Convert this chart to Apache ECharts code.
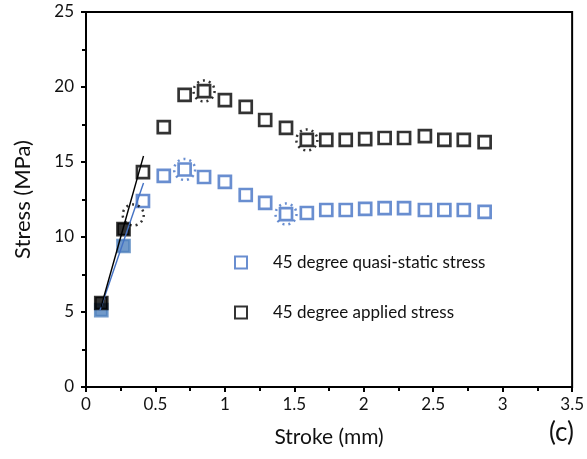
<!DOCTYPE html>
<html>
<head>
<meta charset="utf-8">
<script src="https://cdn.jsdelivr.net/npm/echarts@6/dist/echarts.min.js"></script>
<style>
  html, body { margin: 0; padding: 0; background: #fff; }
  #chart { width: 587px; height: 459px; }
</style>
</head>
<body>
<div id="chart"></div>
<script>
// Stroke positions (mm) shared by both stress series
const stroke = [0.11, 0.27, 0.41, 0.56, 0.71, 0.85, 1.0, 1.15, 1.29, 1.44,
                1.59, 1.73, 1.87, 2.01, 2.15, 2.29, 2.44, 2.58, 2.72, 2.87];

// 45 degree quasi-static stress (MPa)
const quasiStatic = [5.13, 9.4, 12.4, 14.07, 14.5, 14.0, 13.67, 12.8, 12.27, 11.53,
                     11.6, 11.8, 11.8, 11.87, 11.93, 11.93, 11.8, 11.8, 11.8, 11.67];

// 45 degree applied stress (MPa)
const applied = [5.6, 10.53, 14.33, 17.33, 19.47, 19.73, 19.13, 18.67, 17.8, 17.27,
                 16.47, 16.47, 16.47, 16.53, 16.6, 16.6, 16.73, 16.47, 16.47, 16.33];

// Number of leading points drawn as solid squares (elastic region)
const solidCount = 2;

// Indices of points highlighted with a dotted circle
const quasiCircled = [4, 9];
const appliedCircled = [5, 10];

// Linear fits through the elastic region [stroke, stress]
const quasiFit = [[0.10, 5.1], [0.414, 13.6]];
const appliedFit = [[0.107, 5.3], [0.414, 15.4]];

// Yield point marked on the elastic fit
const yieldPoint = [[0.34, 11.47]];

// Axis ranges and tick spacing
const xRange = [0, 3.5], xStep = 0.5;
const yRange = [0, 25], yStep = 5;

const BLUE = '#4472c4';
const BLUE_SOLID = '#4f81bd';
const BLACK = '#000000';
const TEXT = '#111111';
const FONT = 'Lato';

function markerData(xs, ys, solidColor) {
  return xs.map((x, i) => {
    const item = { value: [x, ys[i]] };
    if (i < solidCount) {
      item.itemStyle = { color: solidColor, borderColor: solidColor };
    }
    return item;
  });
}

function circledData(xs, ys, idx) {
  return idx.map(i => [xs[i], ys[i]]);
}

function circleSeries(data, color) {
  return {
    type: 'scatter',
    data: data,
    symbol: 'circle',
    symbolSize: 21,
    silent: true,
    z: 4,
    itemStyle: {
      color: 'transparent',
      borderColor: color,
      borderWidth: 2.5,
      borderType: [2, 4]
    }
  };
}

const chart = echarts.init(document.getElementById('chart'), null, { renderer: 'canvas' });

chart.setOption({
  animation: false,
  backgroundColor: '#ffffff',
  textStyle: { fontFamily: FONT },
  grid: {
    left: 86, right: 11, top: 12, bottom: 72,
    show: true,
    borderColor: BLACK,
    borderWidth: 2,
    backgroundColor: 'transparent'
  },
  legend: {
    orient: 'vertical',
    left: 229,
    top: 249,
    itemGap: 33,
    itemWidth: 12,
    itemHeight: 12,
    selectedMode: false,
    data: ['45 degree quasi-static stress', '45 degree applied stress'],
    textStyle: {
      fontFamily: FONT,
      fontSize: 17,
      color: TEXT,
      padding: [0, 0, 0, 21]
    }
  },
  xAxis: {
    type: 'value',
    min: xRange[0],
    max: xRange[1],
    interval: xStep,
    name: 'Stroke (mm)',
    nameLocation: 'middle',
    nameGap: 40,
    nameTextStyle: { fontFamily: FONT, fontSize: 21, color: TEXT },
    axisLine: { show: true, onZero: false, lineStyle: { color: BLACK, width: 2 } },
    axisTick: { show: true, inside: false, length: 5, lineStyle: { color: BLACK, width: 2 } },
    minorTick: { show: true, splitNumber: 2, length: 4, lineStyle: { color: BLACK, width: 2 } },
    axisLabel: {
      fontFamily: FONT, fontSize: 17, color: TEXT, margin: 9,
      showMaxLabel: true, showMinLabel: true
    },
    splitLine: { show: false }
  },
  yAxis: {
    type: 'value',
    min: yRange[0],
    max: yRange[1],
    interval: yStep,
    name: 'Stress (MPa)',
    nameLocation: 'middle',
    nameGap: 52,
    nameTextStyle: { fontFamily: FONT, fontSize: 22, color: TEXT },
    axisLine: { show: true, onZero: false, lineStyle: { color: BLACK, width: 2 } },
    axisTick: { show: true, inside: false, length: 5, lineStyle: { color: BLACK, width: 2 } },
    minorTick: { show: true, splitNumber: 2, length: 4, lineStyle: { color: BLACK, width: 2 } },
    axisLabel: { fontFamily: FONT, fontSize: 17, color: TEXT, margin: 12 },
    splitLine: { show: false }
  },
  graphic: [{
    type: 'text',
    right: 13,
    top: 420,
    style: { text: '(c)', fontFamily: FONT, fontSize: 26, fill: TEXT }
  }],
  series: [
    {
      name: 'quasi-static fit',
      type: 'line',
      data: quasiFit,
      symbol: 'none',
      silent: true,
      z: 3,
      lineStyle: { color: BLUE, width: 1.4 }
    },
    {
      name: 'applied fit',
      type: 'line',
      data: appliedFit,
      symbol: 'none',
      silent: true,
      z: 3,
      lineStyle: { color: BLACK, width: 1.4 }
    },
    {
      name: '45 degree quasi-static stress',
      type: 'scatter',
      data: markerData(stroke, quasiStatic, BLUE_SOLID),
      symbol: 'rect',
      symbolSize: 12,
      z: 2,
      itemStyle: { color: '#ffffff', borderColor: BLUE, borderWidth: 2.7 }
    },
    {
      name: '45 degree applied stress',
      type: 'scatter',
      data: markerData(stroke, applied, BLACK),
      symbol: 'rect',
      symbolSize: 12,
      z: 2,
      itemStyle: { color: '#ffffff', borderColor: BLACK, borderWidth: 2.7 }
    },
    circleSeries(circledData(stroke, quasiStatic, quasiCircled), BLUE),
    circleSeries(circledData(stroke, applied, appliedCircled), BLACK),
    circleSeries(yieldPoint, BLACK)
  ]
});
</script>
</body>
</html>
